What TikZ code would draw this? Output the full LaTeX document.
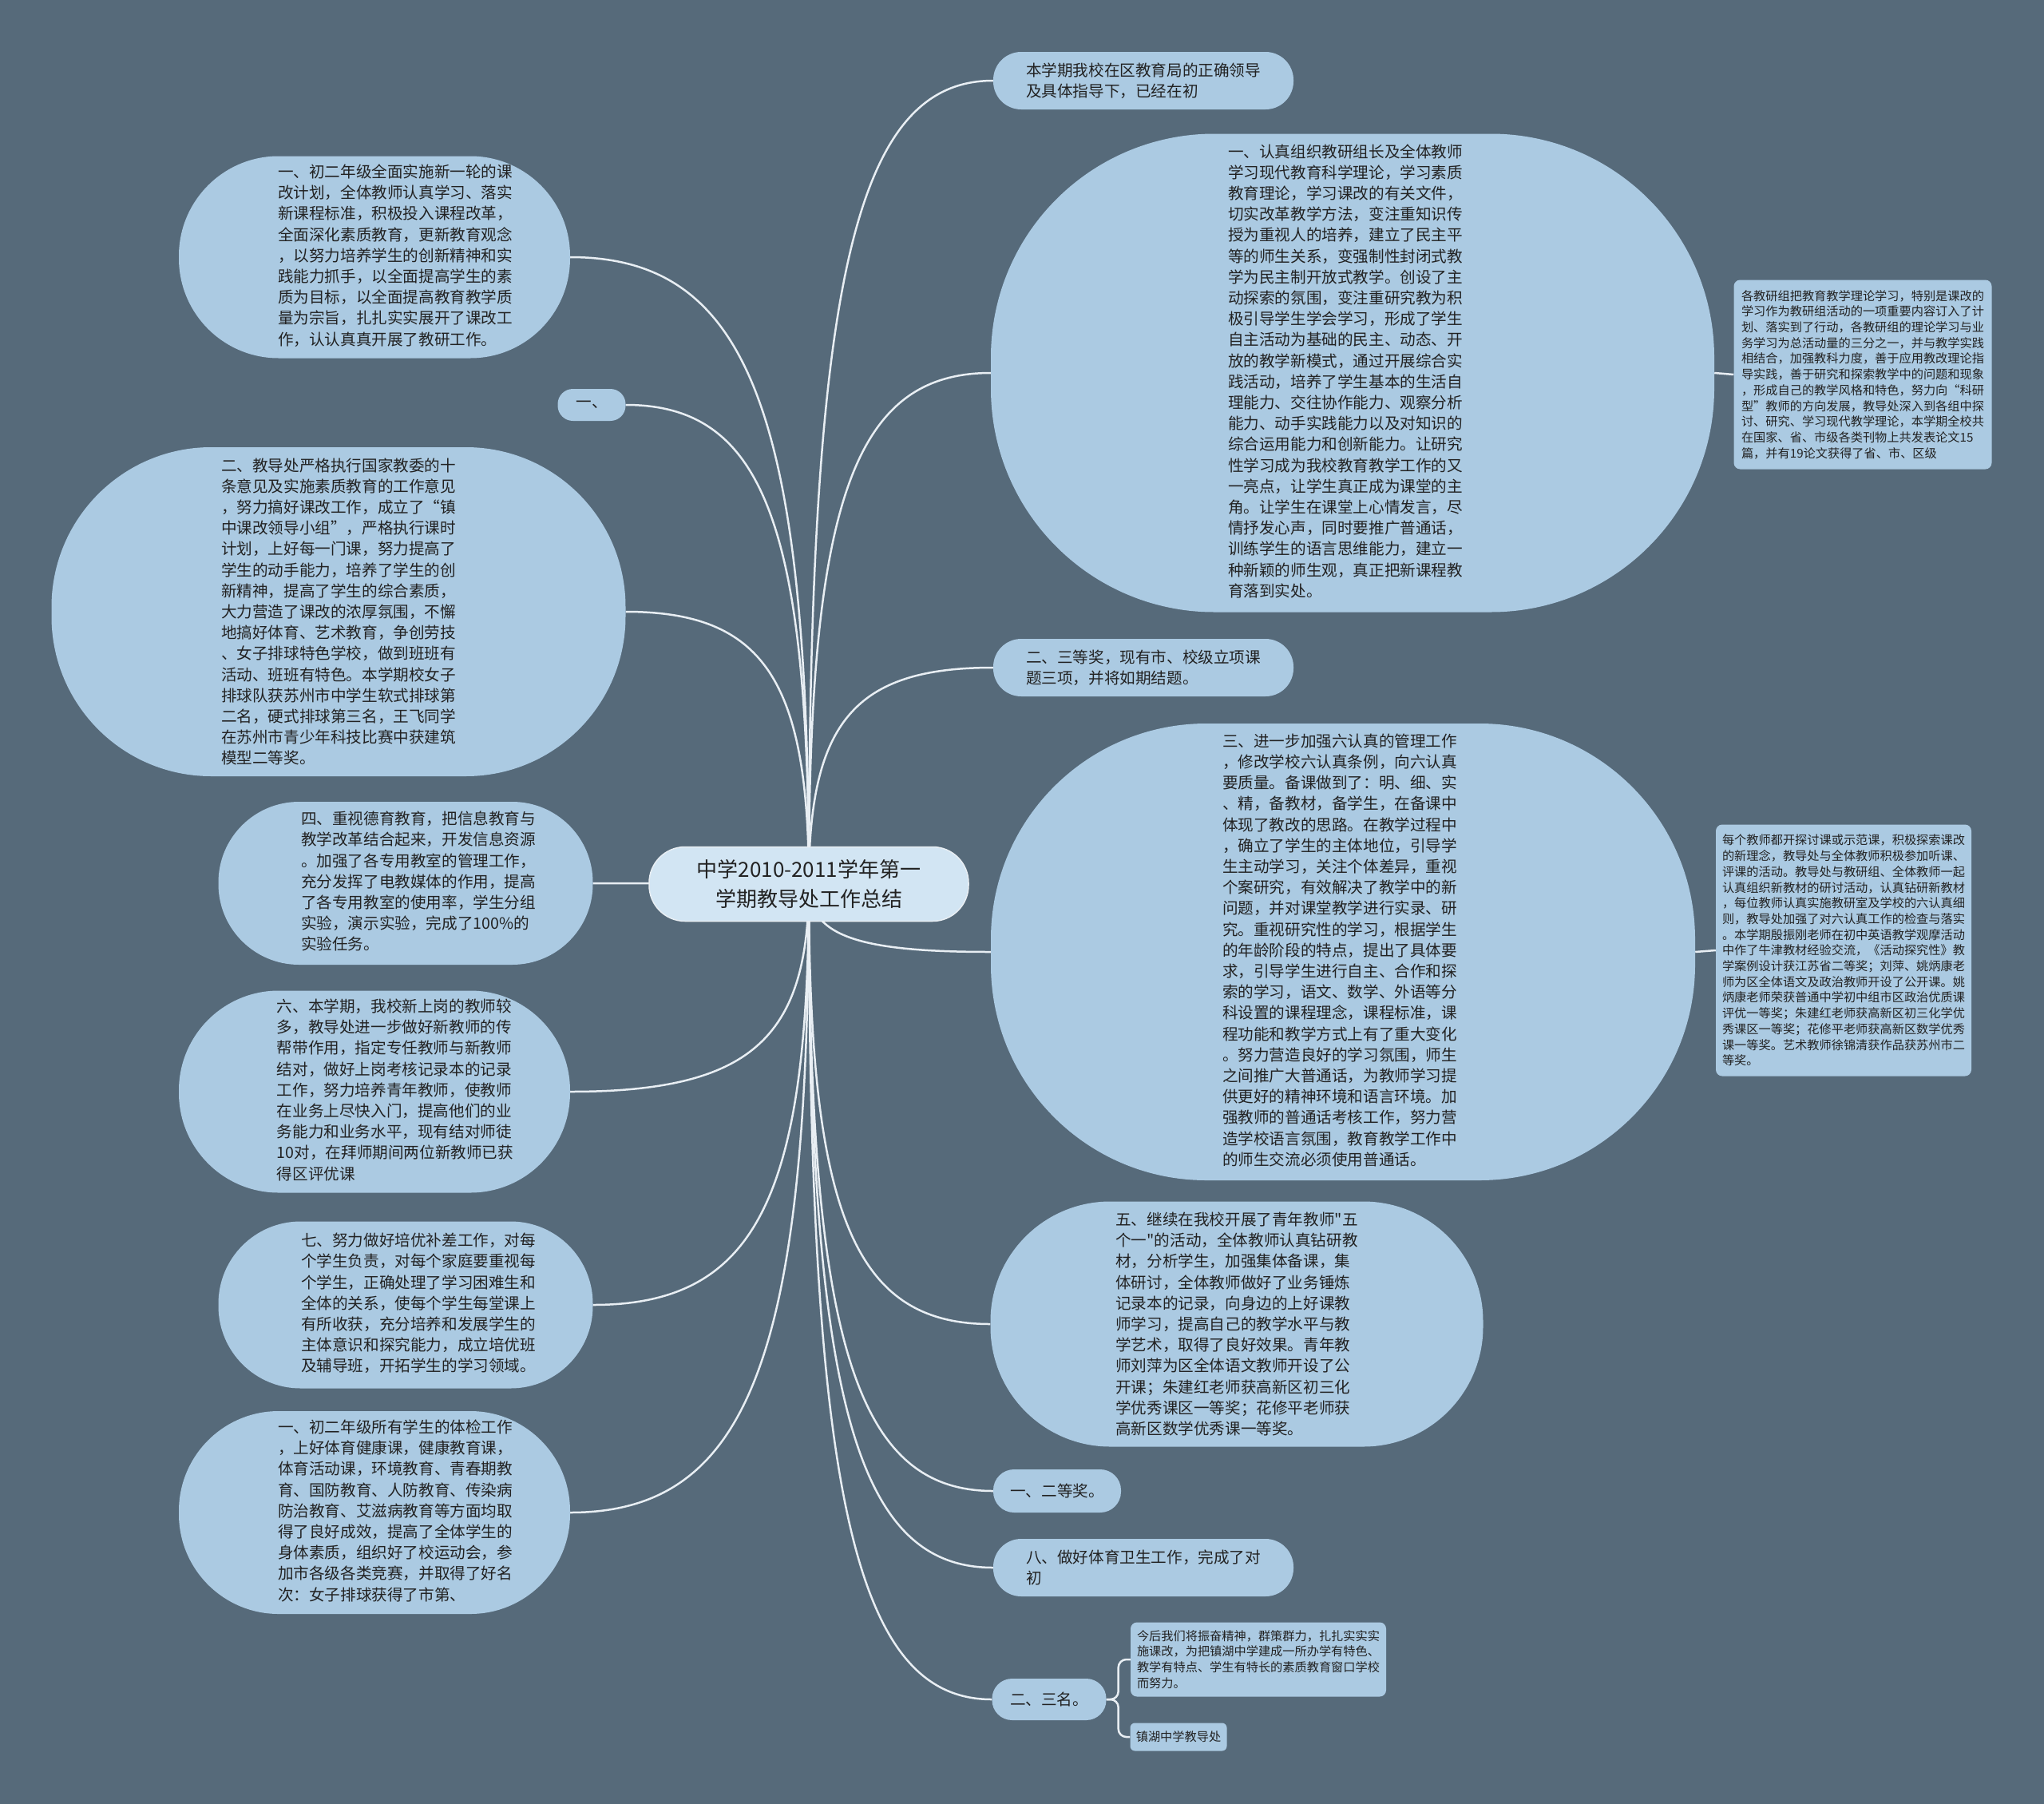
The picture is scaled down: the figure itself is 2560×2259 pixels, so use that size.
\documentclass[tikz,border=0pt]{standalone}
\usepackage{fontspec}
\newfontfamily\cjkfont{Noto Sans CJK SC}
\definecolor{mmbg}{RGB}{86,106,122}
\definecolor{mmnode}{RGB}{171,202,226}
\definecolor{mmroot}{RGB}{210,229,243}
\definecolor{mmline}{RGB}{232,238,243}
\definecolor{mmtext}{RGB}{34,34,34}
\usetikzlibrary{positioning,calc}
\pgfdeclarelayer{background}
\pgfsetlayers{background,main}
% text block with extra room on the left / right
\newcommand{\padtext}[3]{\begin{tabular}{@{\hspace{#1}}l@{\hspace{#2}}}#3\end{tabular}}

\begin{document}
\begin{tikzpicture}[
  x=1pt, y=-1pt,
  every node/.style={font=\cjkfont,text=mmtext},
  rootbox/.style={fill=mmroot,draw=mmline,line width=1.5pt,rounded corners=45pt,
                  minimum width=400pt,minimum height=93pt,align=center,inner sep=0pt,
                  font=\cjkfont\fontsize{26pt}{37pt}\selectfont},
  textbox/.style={fill=mmnode,align=left,inner sep=0pt,
                  font=\cjkfont\fontsize{19.6pt}{26.2pt}\selectfont},
  pillbox/.style={textbox,minimum width=376pt,minimum height=72pt,rounded corners=35pt},
  notebox/.style={fill=mmnode,rounded corners=8pt,align=left,inner sep=0pt,
                  font=\cjkfont\fontsize{15.2pt}{19.7pt}\selectfont},
  branch/.style={draw=mmline,line width=2.5pt,
    to path={.. controls ($(\tikztostart)!0.75!(\tikztostart |- \tikztotarget)$)
             and ($(\tikztotarget)!0.75!(\tikztostart |- \tikztotarget)$) .. (\tikztotarget)}},
]
  \useasboundingbox (0,0) rectangle (2560,2259);
  \begin{pgfonlayer}{background}
    \fill[mmbg] (0,0) rectangle (2560,2259);
  \end{pgfonlayer}

  % root
  \node[rootbox] (ctr) at (1013, 1107) {中学2010-2011学年第一\\学期教导处工作总结};

  % left side
  \node[textbox,minimum width=490pt,minimum height=253pt,rounded corners=125pt]
    (l1) at (469, 322) {\padtext{52pt}{0pt}{一、初二年级全面实施新一轮的课\\改计划，全体教师认真学习、落实\\新课程标准，积极投入课程改革，\\全面深化素质教育，更新教育观念\\，以努力培养学生的创新精神和实\\践能力抓手，以全面提高学生的素\\质为目标，以全面提高教育教学质\\量为宗旨，扎扎实实展开了课改工\\作，认认真真开展了教研工作。}};
  \node[textbox,minimum width=85pt,minimum height=40pt,rounded corners=19pt]
    (l2) at (741, 507) {一、};
  \node[textbox,minimum width=719pt,minimum height=412pt,rounded corners=200pt]
    (l3) at (424, 766) {二、教导处严格执行国家教委的十\\条意见及实施素质教育的工作意见\\，努力搞好课改工作，成立了“镇\\中课改领导小组”，严格执行课时\\计划，上好每一门课，努力提高了\\学生的动手能力，培养了学生的创\\新精神，提高了学生的综合素质，\\大力营造了课改的浓厚氛围，不懈\\地搞好体育、艺术教育，争创劳技\\、女子排球特色学校，做到班班有\\活动、班班有特色。本学期校女子\\排球队获苏州市中学生软式排球第\\二名，硬式排球第三名，王飞同学\\在苏州市青少年科技比赛中获建筑\\模型二等奖。};
  \node[textbox,minimum width=469pt,minimum height=204pt,rounded corners=101pt]
    (l4) at (508, 1106) {\padtext{32pt}{0pt}{四、重视德育教育，把信息教育与\\教学改革结合起来，开发信息资源\\。加强了各专用教室的管理工作，\\充分发挥了电教媒体的作用，提高\\了各专用教室的使用率，学生分组\\实验，演示实验，完成了100\%的\\实验任务。}};
  \node[textbox,minimum width=490pt,minimum height=253pt,rounded corners=125pt]
    (l5) at (469, 1367) {\padtext{52pt}{0pt}{六、本学期，我校新上岗的教师较\\多，教导处进一步做好新教师的传\\帮带作用，指定专任教师与新教师\\结对，做好上岗考核记录本的记录\\工作，努力培养青年教师，使教师\\在业务上尽快入门，提高他们的业\\务能力和业务水平，现有结对师徒\\10对，在拜师期间两位新教师已获\\得区评优课}};
  \node[textbox,minimum width=469pt,minimum height=209pt,rounded corners=103pt]
    (l6) at (508, 1634) {\padtext{32pt}{0pt}{七、努力做好培优补差工作，对每\\个学生负责，对每个家庭要重视每\\个学生，正确处理了学习困难生和\\全体的关系，使每个学生每堂课上\\有所收获，充分培养和发展学生的\\主体意识和探究能力，成立培优班\\及辅导班，开拓学生的学习领域。}};
  \node[textbox,minimum width=490pt,minimum height=254pt,rounded corners=125pt]
    (l7) at (469, 1894) {\padtext{52pt}{0pt}{一、初二年级所有学生的体检工作\\，上好体育健康课，健康教育课，\\体育活动课，环境教育、青春期教\\育、国防教育、人防教育、传染病\\防治教育、艾滋病教育等方面均取\\得了良好成效，提高了全体学生的\\身体素质，组织好了校运动会，参\\加市各级各类竞赛，并取得了好名\\次：女子排球获得了市第、}};

  % right side
  \node[pillbox] (r1) at (1432, 101) {本学期我校在区教育局的正确领导\\及具体指导下，已经在初};
  \node[textbox,minimum width=906pt,minimum height=599pt,rounded corners=280pt]
    (r2) at (1694, 467) {\padtext{0pt}{18pt}{一、认真组织教研组长及全体教师\\学习现代教育科学理论，学习素质\\教育理论，学习课改的有关文件，\\切实改革教学方法，变注重知识传\\授为重视人的培养，建立了民主平\\等的师生关系，变强制性封闭式教\\学为民主制开放式教学。创设了主\\动探索的氛围，变注重研究教为积\\极引导学生学会学习，形成了学生\\自主活动为基础的民主、动态、开\\放的教学新模式，通过开展综合实\\践活动，培养了学生基本的生活自\\理能力、交往协作能力、观察分析\\能力、动手实践能力以及对知识的\\综合运用能力和创新能力。让研究\\性学习成为我校教育教学工作的又\\一亮点，让学生真正成为课堂的主\\角。让学生在课堂上心情发言，尽\\情抒发心声，同时要推广普通话，\\训练学生的语言思维能力，建立一\\种新颖的师生观，真正把新课程教\\育落到实处。}};
  \node[notebox,minimum width=323pt,minimum height=237pt]
    (n1) at (2333, 469) {各教研组把教育教学理论学习，特别是课改的\\学习作为教研组活动的一项重要内容订入了计\\划、落实到了行动，各教研组的理论学习与业\\务学习为总活动量的三分之一，并与教学实践\\相结合，加强教科力度，善于应用教改理论指\\导实践，善于研究和探索教学中的问题和现象\\，形成自己的教学风格和特色，努力向“科研\\型”教师的方向发展，教导处深入到各组中探\\讨、研究、学习现代教学理论，本学期全校共\\在国家、省、市级各类刊物上共发表论文15\\篇，并有19论文获得了省、市、区级};
  \node[pillbox] (r3) at (1432, 836) {二、三等奖，现有市、校级立项课\\题三项，并将如期结题。};
  \node[textbox,minimum width=882pt,minimum height=572pt,rounded corners=270pt]
    (r4) at (1682, 1192) {\padtext{0pt}{8pt}{三、进一步加强六认真的管理工作\\，修改学校六认真条例，向六认真\\要质量。备课做到了：明、细、实\\、精，备教材，备学生，在备课中\\体现了教改的思路。在教学过程中\\，确立了学生的主体地位，引导学\\生主动学习，关注个体差异，重视\\个案研究，有效解决了教学中的新\\问题，并对课堂教学进行实录、研\\究。重视研究性的学习，根据学生\\的年龄阶段的特点，提出了具体要\\求，引导学生进行自主、合作和探\\索的学习，语文、数学、外语等分\\科设置的课程理念，课程标准，课\\程功能和教学方式上有了重大变化\\。努力营造良好的学习氛围，师生\\之间推广大普通话，为教师学习提\\供更好的精神环境和语言环境。加\\强教师的普通话考核工作，努力营\\造学校语言氛围，教育教学工作中\\的师生交流必须使用普通话。}};
  \node[notebox,minimum width=320pt,minimum height=315pt]
    (n2) at (2309, 1190) {每个教师都开探讨课或示范课，积极探索课改\\的新理念，教导处与全体教师积极参加听课、\\评课的活动。教导处与教研组、全体教师一起\\认真组织新教材的研讨活动，认真钻研新教材\\，每位教师认真实施教研室及学校的六认真细\\则，教导处加强了对六认真工作的检查与落实\\。本学期殷振刚老师在初中英语教学观摩活动\\中作了牛津教材经验交流，《活动探究性》教\\学案例设计获江苏省二等奖；刘萍、姚炳康老\\师为区全体语文及政治教师开设了公开课。姚\\炳康老师荣获普通中学初中组市区政治优质课\\评优一等奖；朱建红老师获高新区初三化学优\\秀课区一等奖；花修平老师获高新区数学优秀\\课一等奖。艺术教师徐锦清获作品获苏州市二\\等奖。};
  \node[textbox,minimum width=617pt,minimum height=307pt,rounded corners=150pt]
    (r5) at (1549, 1658) {五、继续在我校开展了青年教师"五\\个一"的活动，全体教师认真钻研教\\材，分析学生，加强集体备课，集\\体研讨，全体教师做好了业务锤炼\\记录本的记录，向身边的上好课教\\师学习，提高自己的教学水平与教\\学艺术，取得了良好效果。青年教\\师刘萍为区全体语文教师开设了公\\开课；朱建红老师获高新区初三化\\学优秀课区一等奖；花修平老师获\\高新区数学优秀课一等奖。};
  \node[textbox,minimum width=160pt,minimum height=54pt,rounded corners=26pt]
    (r6) at (1324, 1867) {一、二等奖。};
  \node[pillbox] (r7) at (1432, 1963) {八、做好体育卫生工作，完成了对\\初};
  \node[textbox,minimum width=143pt,minimum height=52pt,rounded corners=25pt]
    (r8) at (1314, 2128) {二、三名。};
  \node[notebox,minimum width=320pt,minimum height=93pt]
    (n3) at (1576, 2078) {今后我们将振奋精神，群策群力，扎扎实实实\\施课改，为把镇湖中学建成一所办学有特色、\\教学有特点、学生有特长的素质教育窗口学校\\而努力。};
  \node[notebox,minimum width=121pt,minimum height=35pt,rounded corners=6pt]
    (n4) at (1476, 2175) {镇湖中学教导处};

  % connectors
  \begin{pgfonlayer}{background}
    \draw[branch] (ctr.center) to (l1.east);
    \draw[branch] (ctr.center) to (l2.east);
    \draw[branch] (ctr.center) to (l3.east);
    \draw[branch] (ctr.center) to (l4.east);
    \draw[branch] (ctr.center) to (l5.east);
    \draw[branch] (ctr.center) to (l6.east);
    \draw[branch] (ctr.center) to (l7.east);
    \draw[branch] (ctr.center) to (r1.west);
    \draw[branch] (ctr.center) to (r2.west);
    \draw[branch] (ctr.center) to (r3.west);
    \draw[branch] (ctr.center) to (r4.west);
    \draw[branch] (ctr.center) to (r5.west);
    \draw[branch] (ctr.center) to (r6.west);
    \draw[branch] (ctr.center) to (r7.west);
    \draw[branch] (ctr.center) to (r8.west);
    \draw[draw=mmline,line width=2.5pt] (r2.east) -- (n1.west);
    \draw[draw=mmline,line width=2.5pt] (r4.east) -- (n2.west);
    \draw[draw=mmline,line width=2.5pt,rounded corners=10pt] (r8.east) -- ++(15,0) |- (n3.west);
    \draw[draw=mmline,line width=2.5pt,rounded corners=10pt] (r8.east) -- ++(15,0) |- (n4.west);
  \end{pgfonlayer}
\end{tikzpicture}
\end{document}
